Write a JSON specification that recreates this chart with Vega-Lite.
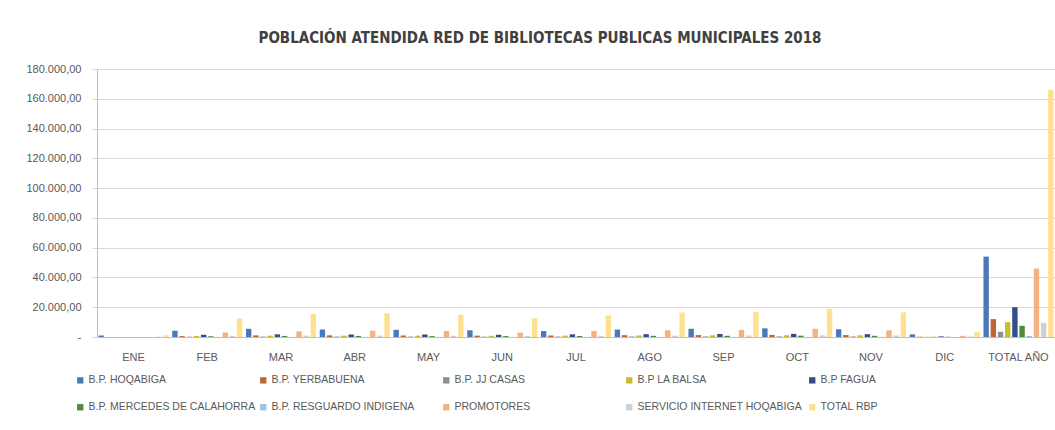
{
  "$schema": "https://vega.github.io/schema/vega-lite/v6.json",
  "width": 958,
  "height": 268,
  "autosize": {"type": "none"},
  "padding": {"left": 97, "top": 69, "right": 0, "bottom": 93},
  "background": "white",
  "config": {"view": {"stroke": null}, "font": "Liberation Sans"},
  "title": {
    "text": "POBLACIÓN ATENDIDA RED DE BIBLIOTECAS PUBLICAS MUNICIPALES 2018",
    "font": "Liberation Sans Narrow, DejaVu Sans Condensed, sans-serif",
    "fontSize": 15,
    "fontWeight": "bold",
    "color": "#404040",
    "anchor": "middle",
    "dx": -36,
    "offset": 17
  },
  "datasets": {
    "rows": [
      {"mes": "ENE", "serie": "B.P.  HOQABIGA", "valor": 1000},
      {"mes": "ENE", "serie": "B.P. YERBABUENA", "valor": 0},
      {"mes": "ENE", "serie": "B.P. JJ CASAS", "valor": 0},
      {"mes": "ENE", "serie": "B.P LA BALSA", "valor": 0},
      {"mes": "ENE", "serie": "B.P FAGUA", "valor": 0},
      {"mes": "ENE", "serie": "B.P. MERCEDES DE CALAHORRA", "valor": 0},
      {"mes": "ENE", "serie": "B.P. RESGUARDO INDIGENA", "valor": 0},
      {"mes": "ENE", "serie": "PROMOTORES", "valor": 0},
      {"mes": "ENE", "serie": "SERVICIO INTERNET HOQABIGA", "valor": 200},
      {"mes": "ENE", "serie": "TOTAL RBP", "valor": 1200},

      {"mes": "FEB", "serie": "B.P.  HOQABIGA", "valor": 4200},
      {"mes": "FEB", "serie": "B.P. YERBABUENA", "valor": 600},
      {"mes": "FEB", "serie": "B.P. JJ CASAS", "valor": 200},
      {"mes": "FEB", "serie": "B.P LA BALSA", "valor": 700},
      {"mes": "FEB", "serie": "B.P FAGUA", "valor": 1500},
      {"mes": "FEB", "serie": "B.P. MERCEDES DE CALAHORRA", "valor": 500},
      {"mes": "FEB", "serie": "B.P. RESGUARDO INDIGENA", "valor": 50},
      {"mes": "FEB", "serie": "PROMOTORES", "valor": 3000},
      {"mes": "FEB", "serie": "SERVICIO INTERNET HOQABIGA", "valor": 800},
      {"mes": "FEB", "serie": "TOTAL RBP", "valor": 12500},

      {"mes": "MAR", "serie": "B.P.  HOQABIGA", "valor": 5500},
      {"mes": "MAR", "serie": "B.P. YERBABUENA", "valor": 1100},
      {"mes": "MAR", "serie": "B.P. JJ CASAS", "valor": 300},
      {"mes": "MAR", "serie": "B.P LA BALSA", "valor": 900},
      {"mes": "MAR", "serie": "B.P FAGUA", "valor": 1800},
      {"mes": "MAR", "serie": "B.P. MERCEDES DE CALAHORRA", "valor": 700},
      {"mes": "MAR", "serie": "B.P. RESGUARDO INDIGENA", "valor": 60},
      {"mes": "MAR", "serie": "PROMOTORES", "valor": 3800},
      {"mes": "MAR", "serie": "SERVICIO INTERNET HOQABIGA", "valor": 900},
      {"mes": "MAR", "serie": "TOTAL RBP", "valor": 15500},

      {"mes": "ABR", "serie": "B.P.  HOQABIGA", "valor": 5000},
      {"mes": "ABR", "serie": "B.P. YERBABUENA", "valor": 1100},
      {"mes": "ABR", "serie": "B.P. JJ CASAS", "valor": 300},
      {"mes": "ABR", "serie": "B.P LA BALSA", "valor": 900},
      {"mes": "ABR", "serie": "B.P FAGUA", "valor": 1700},
      {"mes": "ABR", "serie": "B.P. MERCEDES DE CALAHORRA", "valor": 700},
      {"mes": "ABR", "serie": "B.P. RESGUARDO INDIGENA", "valor": 60},
      {"mes": "ABR", "serie": "PROMOTORES", "valor": 4200},
      {"mes": "ABR", "serie": "SERVICIO INTERNET HOQABIGA", "valor": 900},
      {"mes": "ABR", "serie": "TOTAL RBP", "valor": 16000},

      {"mes": "MAY", "serie": "B.P.  HOQABIGA", "valor": 4800},
      {"mes": "MAY", "serie": "B.P. YERBABUENA", "valor": 1000},
      {"mes": "MAY", "serie": "B.P. JJ CASAS", "valor": 300},
      {"mes": "MAY", "serie": "B.P LA BALSA", "valor": 900},
      {"mes": "MAY", "serie": "B.P FAGUA", "valor": 1700},
      {"mes": "MAY", "serie": "B.P. MERCEDES DE CALAHORRA", "valor": 600},
      {"mes": "MAY", "serie": "B.P. RESGUARDO INDIGENA", "valor": 60},
      {"mes": "MAY", "serie": "PROMOTORES", "valor": 4000},
      {"mes": "MAY", "serie": "SERVICIO INTERNET HOQABIGA", "valor": 800},
      {"mes": "MAY", "serie": "TOTAL RBP", "valor": 15000},

      {"mes": "JUN", "serie": "B.P.  HOQABIGA", "valor": 4500},
      {"mes": "JUN", "serie": "B.P. YERBABUENA", "valor": 900},
      {"mes": "JUN", "serie": "B.P. JJ CASAS", "valor": 250},
      {"mes": "JUN", "serie": "B.P LA BALSA", "valor": 800},
      {"mes": "JUN", "serie": "B.P FAGUA", "valor": 1500},
      {"mes": "JUN", "serie": "B.P. MERCEDES DE CALAHORRA", "valor": 600},
      {"mes": "JUN", "serie": "B.P. RESGUARDO INDIGENA", "valor": 50},
      {"mes": "JUN", "serie": "PROMOTORES", "valor": 3000},
      {"mes": "JUN", "serie": "SERVICIO INTERNET HOQABIGA", "valor": 700},
      {"mes": "JUN", "serie": "TOTAL RBP", "valor": 12500},

      {"mes": "JUL", "serie": "B.P.  HOQABIGA", "valor": 4000},
      {"mes": "JUL", "serie": "B.P. YERBABUENA", "valor": 1000},
      {"mes": "JUL", "serie": "B.P. JJ CASAS", "valor": 300},
      {"mes": "JUL", "serie": "B.P LA BALSA", "valor": 900},
      {"mes": "JUL", "serie": "B.P FAGUA", "valor": 1800},
      {"mes": "JUL", "serie": "B.P. MERCEDES DE CALAHORRA", "valor": 700},
      {"mes": "JUL", "serie": "B.P. RESGUARDO INDIGENA", "valor": 60},
      {"mes": "JUL", "serie": "PROMOTORES", "valor": 4000},
      {"mes": "JUL", "serie": "SERVICIO INTERNET HOQABIGA", "valor": 800},
      {"mes": "JUL", "serie": "TOTAL RBP", "valor": 14500},

      {"mes": "AGO", "serie": "B.P.  HOQABIGA", "valor": 5000},
      {"mes": "AGO", "serie": "B.P. YERBABUENA", "valor": 1200},
      {"mes": "AGO", "serie": "B.P. JJ CASAS", "valor": 350},
      {"mes": "AGO", "serie": "B.P LA BALSA", "valor": 1000},
      {"mes": "AGO", "serie": "B.P FAGUA", "valor": 1900},
      {"mes": "AGO", "serie": "B.P. MERCEDES DE CALAHORRA", "valor": 800},
      {"mes": "AGO", "serie": "B.P. RESGUARDO INDIGENA", "valor": 70},
      {"mes": "AGO", "serie": "PROMOTORES", "valor": 4500},
      {"mes": "AGO", "serie": "SERVICIO INTERNET HOQABIGA", "valor": 900},
      {"mes": "AGO", "serie": "TOTAL RBP", "valor": 16500},

      {"mes": "SEP", "serie": "B.P.  HOQABIGA", "valor": 5500},
      {"mes": "SEP", "serie": "B.P. YERBABUENA", "valor": 1300},
      {"mes": "SEP", "serie": "B.P. JJ CASAS", "valor": 400},
      {"mes": "SEP", "serie": "B.P LA BALSA", "valor": 1100},
      {"mes": "SEP", "serie": "B.P FAGUA", "valor": 2000},
      {"mes": "SEP", "serie": "B.P. MERCEDES DE CALAHORRA", "valor": 800},
      {"mes": "SEP", "serie": "B.P. RESGUARDO INDIGENA", "valor": 70},
      {"mes": "SEP", "serie": "PROMOTORES", "valor": 4800},
      {"mes": "SEP", "serie": "SERVICIO INTERNET HOQABIGA", "valor": 1000},
      {"mes": "SEP", "serie": "TOTAL RBP", "valor": 17000},

      {"mes": "OCT", "serie": "B.P.  HOQABIGA", "valor": 5800},
      {"mes": "OCT", "serie": "B.P. YERBABUENA", "valor": 1400},
      {"mes": "OCT", "serie": "B.P. JJ CASAS", "valor": 400},
      {"mes": "OCT", "serie": "B.P LA BALSA", "valor": 1200},
      {"mes": "OCT", "serie": "B.P FAGUA", "valor": 2100},
      {"mes": "OCT", "serie": "B.P. MERCEDES DE CALAHORRA", "valor": 900},
      {"mes": "OCT", "serie": "B.P. RESGUARDO INDIGENA", "valor": 80},
      {"mes": "OCT", "serie": "PROMOTORES", "valor": 5500},
      {"mes": "OCT", "serie": "SERVICIO INTERNET HOQABIGA", "valor": 1100},
      {"mes": "OCT", "serie": "TOTAL RBP", "valor": 19000},

      {"mes": "NOV", "serie": "B.P.  HOQABIGA", "valor": 5200},
      {"mes": "NOV", "serie": "B.P. YERBABUENA", "valor": 1300},
      {"mes": "NOV", "serie": "B.P. JJ CASAS", "valor": 350},
      {"mes": "NOV", "serie": "B.P LA BALSA", "valor": 1100},
      {"mes": "NOV", "serie": "B.P FAGUA", "valor": 1900},
      {"mes": "NOV", "serie": "B.P. MERCEDES DE CALAHORRA", "valor": 800},
      {"mes": "NOV", "serie": "B.P. RESGUARDO INDIGENA", "valor": 70},
      {"mes": "NOV", "serie": "PROMOTORES", "valor": 4500},
      {"mes": "NOV", "serie": "SERVICIO INTERNET HOQABIGA", "valor": 1000},
      {"mes": "NOV", "serie": "TOTAL RBP", "valor": 16500},

      {"mes": "DIC", "serie": "B.P.  HOQABIGA", "valor": 1800},
      {"mes": "DIC", "serie": "B.P. YERBABUENA", "valor": 200},
      {"mes": "DIC", "serie": "B.P. JJ CASAS", "valor": 100},
      {"mes": "DIC", "serie": "B.P LA BALSA", "valor": 200},
      {"mes": "DIC", "serie": "B.P FAGUA", "valor": 400},
      {"mes": "DIC", "serie": "B.P. MERCEDES DE CALAHORRA", "valor": 150},
      {"mes": "DIC", "serie": "B.P. RESGUARDO INDIGENA", "valor": 20},
      {"mes": "DIC", "serie": "PROMOTORES", "valor": 800},
      {"mes": "DIC", "serie": "SERVICIO INTERNET HOQABIGA", "valor": 300},
      {"mes": "DIC", "serie": "TOTAL RBP", "valor": 3500},

      {"mes": "TOTAL AÑO", "serie": "B.P.  HOQABIGA", "valor": 54000},
      {"mes": "TOTAL AÑO", "serie": "B.P. YERBABUENA", "valor": 12000},
      {"mes": "TOTAL AÑO", "serie": "B.P. JJ CASAS", "valor": 3500},
      {"mes": "TOTAL AÑO", "serie": "B.P LA BALSA", "valor": 10000},
      {"mes": "TOTAL AÑO", "serie": "B.P FAGUA", "valor": 20000},
      {"mes": "TOTAL AÑO", "serie": "B.P. MERCEDES DE CALAHORRA", "valor": 7500},
      {"mes": "TOTAL AÑO", "serie": "B.P. RESGUARDO INDIGENA", "valor": 700},
      {"mes": "TOTAL AÑO", "serie": "PROMOTORES", "valor": 46000},
      {"mes": "TOTAL AÑO", "serie": "SERVICIO INTERNET HOQABIGA", "valor": 9500},
      {"mes": "TOTAL AÑO", "serie": "TOTAL RBP", "valor": 166000}
    ]
  },
  "data": {"name": "rows"},
  "mark": {"type": "bar"},
  "encoding": {
    "x": {
      "field": "mes",
      "type": "nominal",
      "sort": ["ENE", "FEB", "MAR", "ABR", "MAY", "JUN", "JUL", "AGO", "SEP", "OCT", "NOV", "DIC", "TOTAL AÑO"],
      "scale": {"paddingInner": 0.05, "paddingOuter": 0.02},
      "axis": {
        "title": null,
        "labelAngle": 0,
        "labelFontSize": 11,
        "labelColor": "#595959",
        "labelPadding": 14,
        "ticks": false,
        "domainColor": "#bfbfbf"
      }
    },
    "xOffset": {
      "field": "serie",
      "type": "nominal",
      "sort": ["B.P.  HOQABIGA", "B.P. YERBABUENA", "B.P. JJ CASAS", "B.P LA BALSA", "B.P FAGUA", "B.P. MERCEDES DE CALAHORRA", "B.P. RESGUARDO INDIGENA", "PROMOTORES", "SERVICIO INTERNET HOQABIGA", "TOTAL RBP"],
      "scale": {"paddingInner": 0.25, "paddingOuter": 0}
    },
    "y": {
      "field": "valor",
      "type": "quantitative",
      "scale": {"domain": [0, 180000], "nice": false},
      "axis": {
        "title": null,
        "values": [0, 20000, 40000, 60000, 80000, 100000, 120000, 140000, 160000, 180000],
        "labelExpr": "datum.value == 0 ? '-' : replace(replace(replace(format(datum.value, ',.2f'), ',', '#'), '.', ','), '#', '.')",
        "labelFontSize": 11,
        "labelColor": "#595959",
        "labelPadding": 11,
        "tickSize": 5,
        "tickColor": "#d9d9d9",
        "gridColor": "#d9d9d9",
        "domainColor": "#bfbfbf"
      }
    },
    "color": {
      "field": "serie",
      "type": "nominal",
      "scale": {
        "domain": ["B.P.  HOQABIGA", "B.P. YERBABUENA", "B.P. JJ CASAS", "B.P LA BALSA", "B.P FAGUA", "B.P. MERCEDES DE CALAHORRA", "B.P. RESGUARDO INDIGENA", "PROMOTORES", "SERVICIO INTERNET HOQABIGA", "TOTAL RBP"],
        "range": ["#4a78b8", "#c0652f", "#8e8e8e", "#c8be2a", "#2e4e8c", "#4e8a3a", "#9cc3e5", "#f4b183", "#cfcfcf", "#ffe08f"]
      },
      "legend": {
        "title": null,
        "orient": "none",
        "legendX": -22,
        "legendY": 306,
        "direction": "horizontal",
        "columns": 5,
        "gridAlign": "all",
        "symbolType": "square",
        "symbolSize": 40,
        "symbolStrokeWidth": 0,
        "labelFontSize": 10.5,
        "labelColor": "#595959",
        "labelOffset": 3,
        "columnPadding": 2,
        "rowPadding": 16,
        "labelLimit": 400
      }
    }
  }
}
